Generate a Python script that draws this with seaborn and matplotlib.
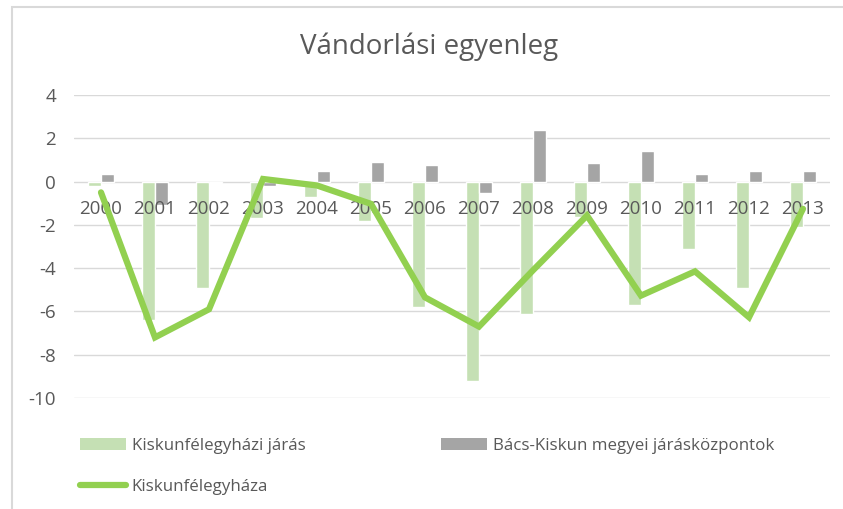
import pandas as pd
import numpy as np
import matplotlib
matplotlib.use("Agg")
import matplotlib.pyplot as plt
from matplotlib.patches import Patch, Rectangle
from matplotlib.lines import Line2D
import seaborn as sns

# Data
years = ["2000", "2001", "2002", "2003", "2004", "2005", "2006",
         "2007", "2008", "2009", "2010", "2011", "2012", "2013"]
jaras = [-0.2, -6.4, -4.9, -1.7, -0.7, -1.8, -5.8,
         -9.2, -6.1, -1.65, -5.7, -3.1, -4.9, -2.1]
megyei = [0.35, -1.1, -0.08, -0.2, 0.48, 0.9, 0.78,
          -0.52, 2.4, 0.88, 1.4, 0.35, 0.48, 0.48]
varos = [-0.5, -7.2, -5.9, 0.12, -0.18, -1.03, -5.35,
         -6.7, -4.1, -1.57, -5.27, -4.15, -6.27, -1.26]

name_jaras = "Kiskunfélegyházi járás"
name_megyei = "Bács-Kiskun megyei járásközpontok"
name_varos = "Kiskunfélegyháza"

c_jaras = "#c5e0b4"
c_megyei = "#a5a5a5"
c_varos = "#92d050"
txt = "#595959"

sns.set_theme(style="white")
plt.rcParams["font.family"] = ["Open Sans", "DejaVu Sans"]
plt.rcParams["axes.unicode_minus"] = False

# long-form table for the bars
bars = pd.DataFrame({
    "year": years * 2,
    "value": jaras + megyei,
    "series": [name_jaras] * len(years) + [name_megyei] * len(years),
})

fig = plt.figure(figsize=(8.43, 5.09), dpi=100)
ax = fig.add_axes([74 / 843, 1 - 398 / 509, 756 / 843, 303 / 509])

sns.barplot(data=bars, x="year", y="value", hue="series",
            hue_order=[name_jaras, name_megyei],
            palette=[c_jaras, c_megyei], saturation=1, width=0.48,
            ax=ax, legend=False, zorder=2)
sns.pointplot(x=years, y=varos, color=c_varos, markers="", linestyles="-",
              linewidth=4.5, ax=ax, errorbar=None, zorder=4,
              solid_capstyle="round", solid_joinstyle="miter")

ax.set_xlim(-0.5, len(years) - 0.5)
ax.set_ylim(-10, 4)
ax.set_yticks(np.arange(-10, 5, 2))
ax.set_xlabel("")
ax.set_ylabel("")
# gridlines under the bars, tick labels above them (as in Excel)
for yv in ax.get_yticks():
    ax.axhline(yv, color="#d9d9d9", linewidth=1, zorder=0)
ax.grid(False)
ax.set_axisbelow(False)
ax.xaxis.set_zorder(3)
for s in ax.spines.values():
    s.set_visible(False)
# years sit right under the zero line
ax.spines["bottom"].set_position(("data", 0))
ax.tick_params(axis="x", length=0, pad=13, labelsize=13.5, labelcolor=txt)
ax.tick_params(axis="y", length=0, pad=13, labelsize=13.5, labelcolor=txt)

fig.suptitle("Vándorlási egyenleg", x=429 / 843, y=1 - 47 / 509,
             va="center", fontsize=20, color=txt)

h1 = Patch(facecolor=c_jaras, edgecolor="none")
h2 = Patch(facecolor=c_megyei, edgecolor="none")
h3 = Line2D([], [], color=c_varos, linewidth=4.5, solid_capstyle="round")

leg_kw = dict(frameon=False, fontsize=12.2, labelcolor=txt, borderpad=0,
              handlelength=2.7, handletextpad=0.35, labelspacing=1.45,
              borderaxespad=0, loc="upper left")
leg1 = fig.legend([h1, h3], [name_jaras, name_varos],
                  bbox_to_anchor=(80 / 843, 1 - 438 / 509), **leg_kw)
leg2 = fig.legend([h2], [name_megyei],
                  bbox_to_anchor=(441 / 843, 1 - 438 / 509), **leg_kw)

# light outer frame of the chart area
fig.patches.append(Rectangle((11.5 / 843, -0.1), 1.0, 1.1 - 7.5 / 509,
                             transform=fig.transFigure, fill=False,
                             edgecolor="#d9d9d9", linewidth=1.5))

fig.savefig("out.png", dpi=100)
